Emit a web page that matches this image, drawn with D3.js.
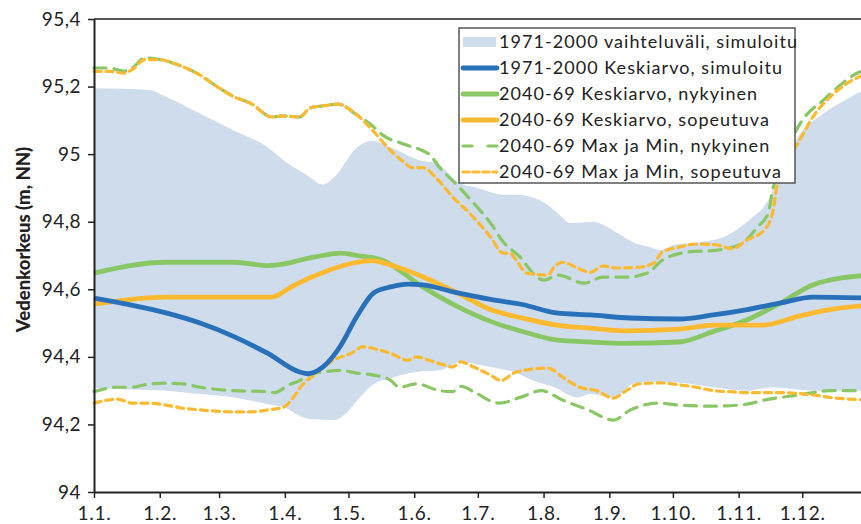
<!DOCTYPE html>
<html>
<head>
<meta charset="utf-8">
<script src="https://cdn.jsdelivr.net/npm/d3@7"></script>
<style>
  body { margin: 0; background: #fff; }
  svg { display: block; font-family: Lato, "Open Sans", sans-serif; }
</style>
</head>
<body>
<div id="chart"></div>
<script>
const width = 861;
const height = 524;
const margin = { top: 19, right: -7, bottom: 32, left: 94 };

// day of year (0 = 1.1.) and water level (m, NN)
const bandDays = [0, 26, 34, 50, 66, 82, 92, 100, 108, 113, 124, 131, 140, 155, 161, 172, 181, 193, 200, 206, 210, 217, 225, 235, 247, 254, 262, 267, 273, 286, 297, 309, 318, 324, 333, 344, 357, 365];
const bandHigh = [95.195, 95.19, 95.17, 95.12, 95.07, 95.02, 94.97, 94.94, 94.91, 94.93, 95.02, 95.04, 95.02, 94.98, 94.975, 94.915, 94.9, 94.88, 94.88, 94.873, 94.864, 94.835, 94.796, 94.8, 94.766, 94.74, 94.725, 94.716, 94.73, 94.74, 94.755, 94.805, 94.864, 94.953, 95.06, 95.12, 95.17, 95.195];
const bandLowDays = [0, 11, 34, 50, 66, 82, 90, 97, 103, 113, 120, 124, 132, 140, 152, 163, 173, 182, 187, 198, 207, 217, 228, 234, 245, 254, 261, 276, 292, 308, 320, 339, 365];
const bandLow = [94.308, 94.305, 94.3, 94.29, 94.28, 94.26, 94.25, 94.225, 94.215, 94.213, 94.24, 94.27, 94.32, 94.337, 94.355, 94.36, 94.385, 94.376, 94.37, 94.355, 94.33, 94.31, 94.28, 94.29, 94.28, 94.32, 94.326, 94.323, 94.31, 94.3, 94.31, 94.3, 94.3];

const meanBlueDays = [0, 34, 50, 66, 82, 97, 101, 108, 116, 124, 132, 140, 148, 155, 171, 187, 202, 218, 234, 253, 276, 292, 308, 324, 339, 365];
const meanBlue = [94.574, 94.53, 94.5, 94.46, 94.41, 94.355, 94.35, 94.37, 94.43, 94.52, 94.59, 94.607, 94.615, 94.613, 94.59, 94.57, 94.555, 94.53, 94.524, 94.515, 94.512, 94.524, 94.54, 94.56, 94.577, 94.574];

const meanGreenDays = [0, 34, 66, 82, 92, 97, 108, 116, 124, 136, 155, 171, 187, 202, 218, 234, 250, 276, 292, 308, 324, 339, 365];
const meanGreen = [94.648, 94.68, 94.68, 94.67, 94.678, 94.686, 94.7, 94.707, 94.7, 94.686, 94.607, 94.55, 94.505, 94.475, 94.45, 94.444, 94.44, 94.444, 94.475, 94.51, 94.56, 94.613, 94.642];

const meanOrangeDays = [0, 34, 66, 84, 92, 97, 108, 124, 131, 140, 155, 171, 187, 202, 218, 234, 250, 276, 292, 316, 332, 347, 365];
const meanOrange = [94.556, 94.577, 94.577, 94.577, 94.603, 94.62, 94.65, 94.68, 94.685, 94.672, 94.637, 94.59, 94.54, 94.515, 94.494, 94.485, 94.477, 94.482, 94.494, 94.494, 94.52, 94.54, 94.553];

const maxGreenDays = [0, 7, 14, 18, 24, 31, 37, 50, 58, 66, 74, 84, 89, 97, 102, 108, 115, 124, 132, 136, 146, 155, 158, 163, 171, 179, 187, 193, 201, 207, 212, 219, 231, 240, 251, 261, 268, 280, 294, 305, 313, 318, 320, 324, 328, 334, 344, 353, 360, 365];
const maxGreen = [95.255, 95.255, 95.246, 95.255, 95.285, 95.28, 95.27, 95.234, 95.2, 95.17, 95.15, 95.11, 95.113, 95.11, 95.137, 95.143, 95.148, 95.116, 95.08, 95.057, 95.03, 95.01, 95.0, 94.96, 94.91, 94.855, 94.796, 94.74, 94.695, 94.648, 94.627, 94.642, 94.618, 94.636, 94.636, 94.648, 94.686, 94.71, 94.716, 94.734, 94.785, 94.826, 94.894, 94.962, 95.03, 95.1, 95.16, 95.21, 95.24, 95.25];

const maxOrangeDays = [0, 7, 14, 18, 24, 31, 37, 50, 58, 66, 74, 84, 89, 97, 102, 108, 115, 124, 130, 140, 146, 150, 155, 162, 169, 177, 187, 193, 196, 200, 204, 214, 217, 221, 228, 234, 240, 246, 258, 264, 268, 276, 284, 294, 301, 308, 316, 320, 322, 325, 332, 339, 349, 358, 365];
const maxOrange = [95.245, 95.245, 95.24, 95.25, 95.28, 95.28, 95.27, 95.234, 95.2, 95.17, 95.15, 95.11, 95.113, 95.11, 95.137, 95.143, 95.148, 95.116, 95.08, 95.01, 94.977, 94.96, 94.96, 94.925, 94.874, 94.826, 94.755, 94.707, 94.707, 94.678, 94.648, 94.642, 94.666, 94.68, 94.663, 94.65, 94.669, 94.663, 94.666, 94.678, 94.71, 94.725, 94.734, 94.731, 94.72, 94.746, 94.775, 94.826, 94.903, 94.962, 95.033, 95.11, 95.18, 95.22, 95.24];

const minGreenDays = [0, 11, 18, 26, 34, 42, 50, 66, 82, 85, 92, 97, 101, 108, 116, 124, 132, 140, 144, 152, 163, 169, 173, 180, 191, 201, 211, 221, 233, 245, 253, 266, 276, 292, 308, 316, 324, 332, 339, 347, 365];
const minGreen = [94.297, 94.31, 94.31, 94.32, 94.322, 94.32, 94.31, 94.3, 94.297, 94.294, 94.317, 94.33, 94.346, 94.355, 94.36, 94.352, 94.346, 94.33, 94.31, 94.32, 94.3, 94.297, 94.313, 94.293, 94.263, 94.28, 94.3, 94.272, 94.243, 94.213, 94.243, 94.263, 94.257, 94.254, 94.26, 94.272, 94.28, 94.287, 94.294, 94.3, 94.3];

const minOrangeDays = [0, 11, 18, 26, 34, 42, 50, 66, 74, 82, 89, 94, 97, 105, 113, 121, 127, 133, 140, 148, 152, 158, 165, 169, 173, 179, 187, 192, 198, 207, 214, 221, 229, 237, 245, 251, 257, 267, 276, 284, 292, 300, 308, 324, 339, 347, 365];
const minOrange = [94.263, 94.275, 94.263, 94.263, 94.257, 94.248, 94.243, 94.237, 94.237, 94.243, 94.25, 94.28, 94.307, 94.352, 94.39, 94.41, 94.43, 94.423, 94.41, 94.39, 94.4, 94.39, 94.376, 94.37, 94.385, 94.37, 94.346, 94.33, 94.352, 94.364, 94.367, 94.34, 94.31, 94.3, 94.278, 94.3, 94.32, 94.323, 94.317, 94.31, 94.3, 94.297, 94.294, 94.294, 94.287, 94.28, 94.272];

const yTicks = [94, 94.2, 94.4, 94.6, 94.8, 95, 95.2, 95.4];
const monthTicks = [0, 31, 59, 90, 120, 151, 181, 212, 243, 273, 304, 334];
const monthLabels = ["1.1.", "1.2.", "1.3.", "1.4.", "1.5.", "1.6.", "1.7.", "1.8.", "1.9.", "1.10.", "1.11.", "1.12."];

const legendLabels = [
  "1971-2000 vaihteluväli, simuloitu",
  "1971-2000 Keskiarvo, simuloitu",
  "2040-69 Keskiarvo, nykyinen",
  "2040-69 Keskiarvo, sopeutuva",
  "2040-69 Max ja Min, nykyinen",
  "2040-69 Max ja Min, sopeutuva"
];

const colBand = "#cfdcec";
const colBlue = "#2870b9";
const colGreen = "#89c765";
const colOrange = "#fdb92f";

const svg = d3.select("#chart")
  .append("svg")
  .attr("width", width)
  .attr("height", height);

const x = d3.scaleLinear()
  .domain([0, 365])
  .range([margin.left, width - margin.right]);

const y = d3.scaleLinear()
  .domain([94, 95.4])
  .range([height - margin.bottom, margin.top]);

const pairs = (days, vals) => days.map((d, i) => [d, vals[i]]);

const line = d3.line()
  .x(d => x(d[0]))
  .y(d => y(d[1]))
  .curve(d3.curveMonotoneX);

// band: upper edge then lower edge reversed
const hiPts = pairs(bandDays, bandHigh).map(d => [x(d[0]), y(d[1])]);
const loPts = pairs(bandLowDays, bandLow).map(d => [x(d[0]), y(d[1])]);
const edge = d3.line().curve(d3.curveMonotoneX);
const bandPath = edge(hiPts) + "L" + edge(loPts.slice().reverse()).slice(1) + "Z";

svg.append("path")
  .attr("d", bandPath)
  .attr("fill", colBand);

// dashed max / min lines
const dashed = [
  { days: minGreenDays, vals: minGreen, color: colGreen, dash: "12,8" },
  { days: maxGreenDays, vals: maxGreen, color: colGreen, dash: "12,8" },
  { days: minOrangeDays, vals: minOrange, color: colOrange, dash: "7,5" },
  { days: maxOrangeDays, vals: maxOrange, color: colOrange, dash: "7,5" }
];

svg.append("g")
  .selectAll("path")
  .data(dashed)
  .join("path")
    .attr("d", d => line(pairs(d.days, d.vals)))
    .attr("fill", "none")
    .attr("stroke", d => d.color)
    .attr("stroke-width", 3.2)
    .attr("stroke-dasharray", d => d.dash)
    .attr("stroke-linecap", "round");

// solid mean lines
const solid = [
  { days: meanGreenDays, vals: meanGreen, color: colGreen },
  { days: meanOrangeDays, vals: meanOrange, color: colOrange },
  { days: meanBlueDays, vals: meanBlue, color: colBlue }
];

svg.append("g")
  .selectAll("path")
  .data(solid)
  .join("path")
    .attr("d", d => line(pairs(d.days, d.vals)))
    .attr("fill", "none")
    .attr("stroke", d => d.color)
    .attr("stroke-width", 4.8)
    .attr("stroke-linejoin", "round");

// top frame line
svg.append("line")
  .attr("x1", margin.left).attr("x2", width)
  .attr("y1", y(95.4)).attr("y2", y(95.4))
  .attr("stroke", "#555").attr("stroke-width", 2);

// axes
const yAxis = d3.axisLeft(y)
  .tickValues(yTicks)
  .tickSize(6)
  .tickSizeOuter(0)
  .tickFormat(d => (Math.round(d * 10) % 10 === 0 ? d3.format(".0f")(d) : d3.format(".1f")(d).replace(".", ",")));

const yg = svg.append("g")
  .attr("transform", `translate(${margin.left},0)`)
  .call(yAxis);
yg.select(".domain").attr("stroke", "#222").attr("stroke-width", 2);
yg.selectAll(".tick line").attr("stroke", "#222").attr("stroke-width", 1.5);
yg.selectAll(".tick text")
  .attr("x", -13)
  .attr("fill", "#222")
  .attr("font-size", 19)
  .attr("letter-spacing", 0.5)
  .attr("font-family", "Lato, sans-serif");

const xAxis = d3.axisBottom(x)
  .tickValues(monthTicks)
  .tickSize(6)
  .tickSizeOuter(0)
  .tickFormat((d, i) => monthLabels[i]);

const xg = svg.append("g")
  .attr("transform", `translate(0,${height - margin.bottom})`)
  .call(xAxis);
xg.select(".domain").attr("stroke", "#222").attr("stroke-width", 2);
xg.selectAll(".tick line").attr("stroke", "#222").attr("stroke-width", 1.5);
xg.selectAll(".tick text")
  .attr("y", 15)
  .attr("fill", "#222")
  .attr("font-size", 19)
  .attr("letter-spacing", 0.8)
  .attr("font-family", "Lato, sans-serif");

// y label
svg.append("text")
  .attr("transform", `translate(30,${(122 + 357) / 2}) rotate(-90)`)
  .attr("text-anchor", "middle")
  .attr("font-size", 18.5)
  .attr("font-weight", 900)
  .attr("fill", "#222")
  .text("Vedenkorkeus (m, NN)");

// legend
const lg = svg.append("g").attr("transform", "translate(459,28)");
lg.append("rect")
  .attr("width", 336).attr("height", 155)
  .attr("fill", "#fff")
  .attr("stroke", "#555").attr("stroke-width", 1.5);

const rowY = i => 14 + i * 26;
const sw = [
  { type: "band" },
  { type: "line", color: colBlue, w: 4.8, dash: null },
  { type: "line", color: colGreen, w: 4.8, dash: null },
  { type: "line", color: colOrange, w: 4.8, dash: null },
  { type: "line", color: colGreen, w: 3.2, dash: "9,16" },
  { type: "line", color: colOrange, w: 3.2, dash: "6,4" }
];

const rows = lg.selectAll("g.row")
  .data(legendLabels)
  .join("g")
    .attr("class", "row")
    .attr("transform", (d, i) => `translate(0,${rowY(i)})`);

rows.each(function(d, i) {
  const g = d3.select(this);
  const s = sw[i];
  if (s.type === "band") {
    g.append("rect").attr("x", 4).attr("y", -5).attr("width", 33).attr("height", 10).attr("fill", colBand);
  } else {
    g.append("line")
      .attr("x1", 4).attr("x2", 38)
      .attr("stroke", s.color)
      .attr("stroke-width", s.w)
      .attr("stroke-linecap", "round")
      .attr("stroke-dasharray", s.dash);
  }
  g.append("text")
    .attr("x", 40)
    .attr("dy", "0.35em")
    .attr("font-size", 18)
    .attr("letter-spacing", 1.05)
    .attr("fill", "#222")
    .text(d);
});
</script>
</body>
</html>
